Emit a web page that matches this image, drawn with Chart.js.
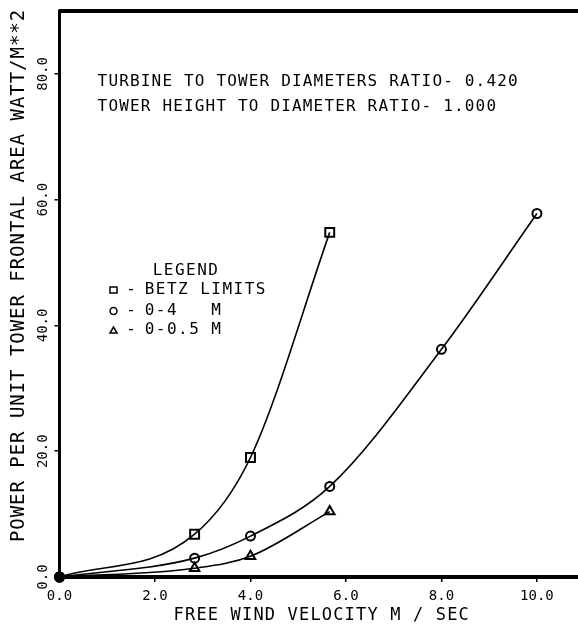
<!DOCTYPE html>
<html>
<head>
<meta charset="utf-8">
<script src="https://cdn.jsdelivr.net/npm/chart.js@4.4.1/dist/chart.umd.min.js"></script>
<style>
  body{margin:0;background:#fff;}
  canvas{display:block;}
</style>
</head>
<body>
<canvas id="plot" width="578" height="626"></canvas>
<script>
// data
var xVelocity=[0,2.83,4.0,5.66,8.0,10.0];
var betzLimits=[0,6.8,19.0,54.8];
var dia4m=[0,3.0,6.5,14.4,36.2,57.8];
var dia05m=[0,1.4,3.3,10.4];
var xTicks=[0,2,4,6,8,10];
var yTicks=[0,20,40,60,80];
var noteLines=["TURBINE TO TOWER DIAMETERS RATIO- 0.420","TOWER HEIGHT TO DIAMETER RATIO- 1.000"];
var legendRows=["BETZ LIMITS","0-4   M","0-0.5 M"];

var MONO='"DejaVu Sans Mono", monospace';

function pairs(ys){
  var out=[];
  for(var i=0;i<ys.length;i++){ out.push({x:xVelocity[i],y:ys[i]}); }
  return out;
}
function markerStyle(n,style){
  var s=[];
  for(var i=0;i<n;i++){ s.push(i==0?'circle':style); }
  return s;
}
function markerFill(n){
  var f=[];
  for(var i=0;i<n;i++){ f.push(i==0?'#000':'rgba(0,0,0,0)'); }
  return f;
}
function markerSize(n,r){
  var f=[];
  for(var i=0;i<n;i++){ f.push(i==0?4.5:r); }
  return f;
}

// draw a string char by char at a fixed pitch
function pitchText(ctx,text,x,y,pitch){
  for(var i=0;i<text.length;i++){
    ctx.fillText(text[i],x+i*pitch+pitch/2,y);
  }
}

var textPlugin={
  id:'plotText',
  afterDraw:function(chart){
    var ctx=chart.ctx;
    var area=chart.chartArea;
    var ys=chart.scales.y;
    ctx.save();
    // top frame line
    ctx.strokeStyle='#000';
    ctx.lineWidth=4;
    ctx.beginPath();
    ctx.moveTo(area.left-1,area.top);
    ctx.lineTo(chart.width,area.top);
    ctx.stroke();

    ctx.fillStyle='#000';
    ctx.textAlign='center';
    ctx.textBaseline='middle';

    // y tick labels, rotated
    ctx.font='14px '+MONO;
    yTicks.forEach(function(v){
      var py=ys.getPixelForValue(v);
      ctx.save();
      ctx.translate(area.left-16,py);
      ctx.rotate(-Math.PI/2);
      ctx.fillText(v.toFixed(1),0,0);
      ctx.restore();
    });

    // y axis title
    ctx.font='19px '+MONO;
    ctx.save();
    ctx.translate(19,276);
    ctx.rotate(-Math.PI/2);
    var yTitle="POWER PER UNIT TOWER FRONTAL AREA WATT/M**2";
    pitchText(ctx,yTitle,-yTitle.length*12.4/2,0,12.4);
    ctx.restore();

    // x axis title
    ctx.font='17px '+MONO;
    var xTitle="FREE WIND VELOCITY M / SEC";
    pitchText(ctx,xTitle,173,616,11.4);

    // notes
    ctx.font='16px '+MONO;
    pitchText(ctx,noteLines[0],97,82,10.8);
    pitchText(ctx,noteLines[1],97,107,10.8);

    // legend
    pitchText(ctx,"LEGEND",152,271,11.1);
    var rowY=[290,311,330];
    for(var i=0;i<legendRows.length;i++){
      ctx.fillText("-",131,rowY[i]);
      pitchText(ctx,legendRows[i],144,rowY[i],11.1);
    }
    ctx.lineWidth=1.5;
    ctx.strokeRect(110,rowY[0]-3,7,6);
    ctx.beginPath();
    ctx.arc(113.5,rowY[1],3.5,0,Math.PI*2);
    ctx.stroke();
    ctx.beginPath();
    ctx.moveTo(110,rowY[2]+3);
    ctx.lineTo(117,rowY[2]+3);
    ctx.lineTo(113.5,rowY[2]-3);
    ctx.closePath();
    ctx.stroke();
    ctx.restore();
  }
};

new Chart(document.getElementById("plot"),{
  type:"line",
  data:{
    datasets:[{
      data:pairs(betzLimits),
      borderColor:"#000",
      borderWidth:1.6,
      pointStyle:markerStyle(betzLimits.length,'rect'),
      pointRadius:markerSize(betzLimits.length,6.3),
      pointBackgroundColor:markerFill(betzLimits.length),
      pointBorderColor:"#000",
      pointBorderWidth:2,
      cubicInterpolationMode:"monotone",
      fill:false
    },{
      data:pairs(dia4m),
      borderColor:"#000",
      borderWidth:1.6,
      pointStyle:markerStyle(dia4m.length,'circle'),
      pointRadius:markerSize(dia4m.length,4.5),
      pointBackgroundColor:markerFill(dia4m.length),
      pointBorderColor:"#000",
      pointBorderWidth:2,
      cubicInterpolationMode:"monotone",
      fill:false
    },{
      data:pairs(dia05m),
      borderColor:"#000",
      borderWidth:1.6,
      pointStyle:markerStyle(dia05m.length,'triangle'),
      pointRadius:markerSize(dia05m.length,5.5),
      pointBackgroundColor:markerFill(dia05m.length),
      pointBorderColor:"#000",
      pointBorderWidth:2,
      cubicInterpolationMode:"monotone",
      fill:false
    }]
  },
  options:{
    responsive:false,
    animation:false,
    clip:false,
    layout:{autoPadding:false,padding:{top:11,left:0,right:0,bottom:0}},
    plugins:{legend:{display:false},tooltip:{enabled:false}},
    scales:{
      x:{
        type:"linear",
        min:0,
        max:10.86,
        afterBuildTicks:function(axis){ axis.ticks=xTicks.map(function(v){return {value:v};}); },
        afterFit:function(axis){ axis.height=49; axis.paddingLeft=0; axis.paddingRight=0; },
        border:{color:"#000",width:4},
        grid:{drawOnChartArea:false,color:"#000",tickLength:5,lineWidth:1.5},
        ticks:{
          color:"#000",
          font:{family:MONO,size:14},
          padding:6,
          maxRotation:0,
          callback:function(v){ return Number(v).toFixed(1); }
        }
      },
      y:{
        type:"linear",
        min:0,
        max:90,
        afterBuildTicks:function(axis){ axis.ticks=yTicks.map(function(v){return {value:v};}); },
        afterFit:function(axis){ axis.width=59.5; axis.paddingTop=0; axis.paddingBottom=0; },
        border:{color:"#000",width:3},
        grid:{drawOnChartArea:false,color:"#000",tickLength:5,lineWidth:1.5},
        ticks:{display:false}
      }
    }
  },
  plugins:[textPlugin]
});
</script>
</body>
</html>
